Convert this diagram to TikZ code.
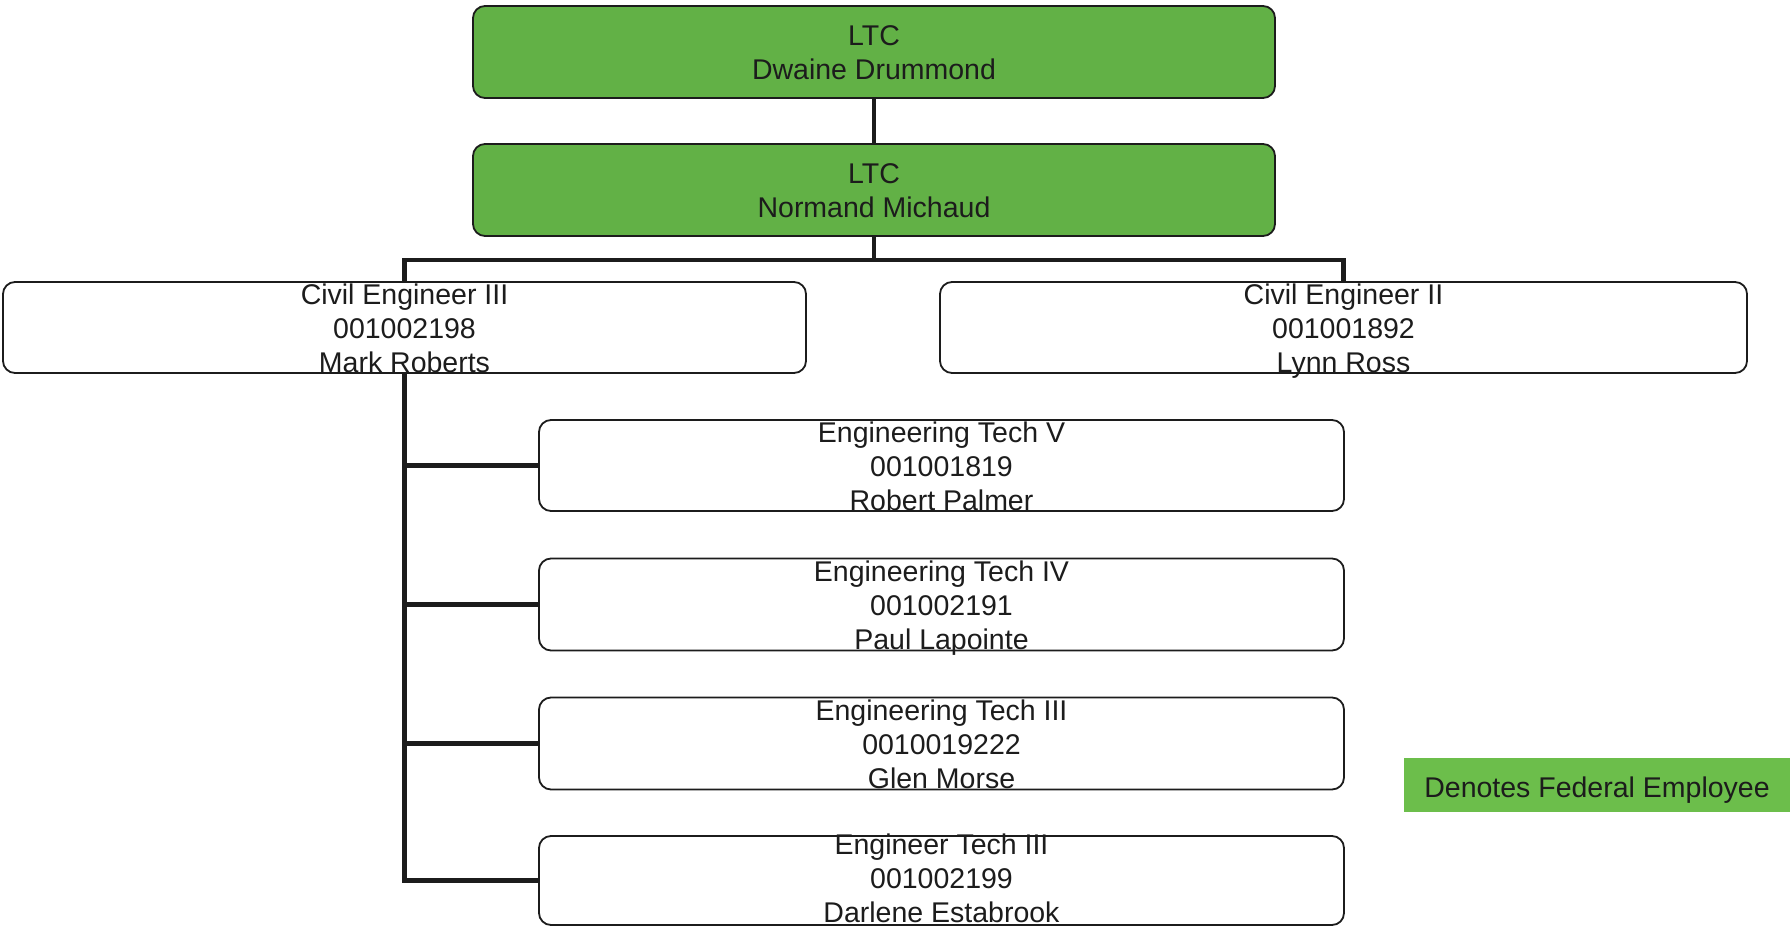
\documentclass[tikz,border=0pt]{standalone}
\usepackage{fontspec}
\setmainfont{Liberation Sans}
\usetikzlibrary{backgrounds}
\definecolor{boxgreen}{RGB}{98,177,70}
\definecolor{legendgreen}{RGB}{108,190,75}
\definecolor{ink}{RGB}{28,28,28}
\begin{document}
\begin{tikzpicture}[x=1pt,y=-1pt,
  card/.style={draw=ink, line width=1.8pt, rounded corners=12pt, fill=white,
    inner sep=0pt},
  fed/.style={card, fill=boxgreen},
  caption/.style={inner sep=0pt, align=center, text=ink, yshift=-6pt,
    font=\fontsize{28.5}{34.2}\selectfont,
    execute at begin node=\strut, execute at end node=\strut},
  link/.style={draw=ink, line width=4.5pt}]
\useasboundingbox (0,0) rectangle (1790,928);

% leadership
\node[fed, minimum width=802, minimum height=92] (ltcA) at (874,52) {};
\node[caption] (ltcA-t) at (ltcA.center) {LTC\\Dwaine Drummond};
\node[fed, minimum width=802, minimum height=92] (ltcB) at (874,190) {};
\node[caption] (ltcB-t) at (ltcB.center) {LTC\\Normand Michaud};

% engineers
\node[card, minimum width=803, minimum height=91] (ceIII) at (404.5,327.5) {};
\node[caption] (ceIII-t) at (ceIII.center) {Civil Engineer III\\001002198\\Mark Roberts};
\node[card, minimum width=807, minimum height=91] (ceII) at (1343.5,327.5) {};
\node[caption] (ceII-t) at (ceII.center) {Civil Engineer II\\001001892\\Lynn Ross};

% technicians
\node[card, minimum width=805, minimum height=91] (techA) at (941.5,465.5) {};
\node[caption] (techA-t) at (techA.center) {Engineering Tech V\\001001819\\Robert Palmer};
\node[card, minimum width=805, minimum height=92] (techB) at (941.5,604.5) {};
\node[caption] (techB-t) at (techB.center) {Engineering Tech IV\\001002191\\Paul Lapointe};
\node[card, minimum width=805, minimum height=92] (techC) at (941.5,743.5) {};
\node[caption] (techC-t) at (techC.center) {Engineering Tech III\\0010019222\\Glen Morse};
\node[card, minimum width=805, minimum height=89] (techD) at (941.5,880.5) {};
\node[caption, yshift=3pt] (techD-t) at (techD.center) {Engineer Tech III\\001002199\\Darlene Estabrook};

% legend
\node[fill=legendgreen, minimum width=386, minimum height=54, inner sep=0pt] (legend) at (1597,785) {};
\node[caption] (legend-t) at (legend.center) {Denotes Federal Employee};

% reporting lines
\coordinate (bus) at (874,260);
\begin{pgfonlayer}{background}
  \draw[link] (ltcA.south) -- (ltcB.north);
  \draw[link] (ltcB.south) -- (bus);
  \draw[link] (ceIII.north) |- (bus) -| (ceII.north);
  \draw[link] (ceIII.south) |- (techA.west);
  \draw[link] (ceIII.south) |- (techB.west);
  \draw[link] (ceIII.south) |- (techC.west);
  \draw[link] (ceIII.south) |- (techD.west);
\end{pgfonlayer}
\end{tikzpicture}
\end{document}
